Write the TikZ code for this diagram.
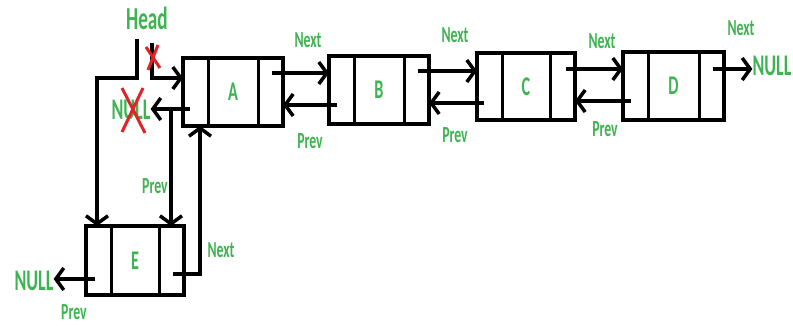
\documentclass[tikz,border=0pt]{standalone}
\usepackage{fontspec}
\setmainfont{Carlito}[FakeStretch=0.6]
\usetikzlibrary{arrows.meta,calc}
\definecolor{lblgreen}{RGB}{60,180,80}
\definecolor{xred}{RGB}{225,35,40}
\begin{document}
\begin{tikzpicture}[x=1pt,y=-1pt,
  listnode/.style={draw, line width=4pt, minimum width=100pt, minimum height=68pt,
    inner sep=0pt, outer sep=0pt, text=lblgreen, font=\bfseries\fontsize{27}{27}\selectfont},
  divider/.style={line width=3pt},
  ptr/.style={line width=3.5pt, -{Straight Barb[length=8pt,width=22pt]}},
  lbl/.style={text=lblgreen, inner sep=0pt, font=\bfseries\fontsize{23}{23}\selectfont},
  nullst/.style={text=lblgreen, inner sep=0pt, font=\bfseries\fontsize{30}{30}\selectfont},
  headst/.style={text=lblgreen, inner sep=0pt, font=\bfseries\fontsize{32}{32}\selectfont},
  cross/.style={xred, line width=3pt}]
\useasboundingbox (0,0) rectangle (793,326);
\fill[white] (0,0) rectangle (793,326);

% list nodes
\node[listnode] (A) at (233,92) {A};
\node[listnode] (B) at (379,90) {B};
\node[listnode, minimum width=98pt, minimum height=67pt] (C) at (526,86.5) {C};
\node[listnode, minimum width=101pt] (D) at (673.5,86) {D};
\node[listnode, minimum width=98pt, minimum height=69pt] (E) at (135,260.5) {E};
\foreach \n in {A,B,C,D,E}{
  \draw[divider] ([xshift=25pt]\n.north west) -- ([xshift=25pt]\n.south west);
  \draw[divider] ([xshift=-25pt]\n.north east) -- ([xshift=-25pt]\n.south east);
}

% texts
\node[headst] (head) at (147,18) {Head};
\node[nullst] (nullA) at (131,110) {NULL};
\node[nullst] (nullR) at (772,66) {NULL};
\node[nullst] (nullE) at (34,281) {NULL};
\node[lbl] (nx1) at (308,40) {Next};
\node[lbl] (nx2) at (455,35) {Next};
\node[lbl] (nx3) at (602,41) {Next};
\node[lbl] (nx4) at (741,28) {Next};
\node[lbl] (nx5) at (221,250) {Next};
\node[lbl] (pv1) at (310,141) {Prev};
\node[lbl] (pv2) at (455,135) {Prev};
\node[lbl] (pv3) at (605,129) {Prev};
\node[lbl] (pv4) at (155,186) {Prev};
\node[lbl] (pv5) at (74,312) {Prev};

% next / prev pointers between A..D
\coordinate (An) at (272,73);  \draw[ptr] (An) -- (An -| B.west);
\coordinate (Bp) at (337,105); \draw[ptr] (Bp) -- (Bp -| A.east);
\coordinate (Bn) at (418,71);  \draw[ptr] (Bn) -- (Bn -| C.west);
\coordinate (Cp) at (484,103); \draw[ptr] (Cp) -- (Cp -| B.east);
\coordinate (Cn) at (566,69);  \draw[ptr] (Cn) -- (Cn -| D.west);
\coordinate (Dp) at (631,101); \draw[ptr] (Dp) -- (Dp -| C.east);
\coordinate (Dn) at (713,69);  \draw[ptr] (Dn) -- (Dn -| nullR.west);

% A prev
\coordinate (Ap) at (190,109); \draw[ptr] (Ap) -- (Ap -| nullA.east);
\coordinate (Apd) at (171,109); \draw[ptr] (Apd) -- (Apd |- E.north);

% head pointers
\coordinate (h1) at (137,39); \coordinate (hk) at (97,78);
\draw[ptr] (h1) |- (hk) -- (hk |- E.north);
\coordinate (oh) at (152,43); \coordinate (ohk) at (152,78);
\draw[ptr] (oh) -- (ohk) -- (ohk -| A.west);

% E pointers
\coordinate (En) at (173,274); \coordinate (Enk) at (200,274);
\draw[ptr] (En) -- (Enk) -- (Enk |- A.south);
\coordinate (Ep) at (95,279); \draw[ptr] (Ep) -- (Ep -| nullE.east);

% red crosses
\draw[cross] (122,88) -- (145,133) (143,88) -- (122,132);
\draw[cross] (146,47) -- (160,68) (158,45) -- (148,70);
\end{tikzpicture}
\end{document}
